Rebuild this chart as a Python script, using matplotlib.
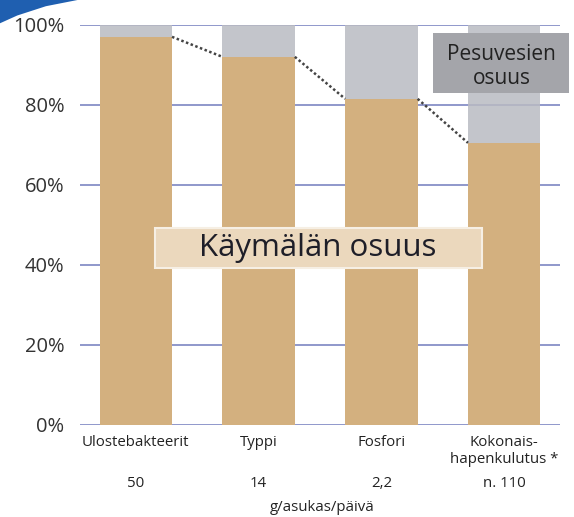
import numpy as np
import matplotlib.pyplot as plt
from matplotlib.patches import Polygon, Rectangle

# data
categories = ['Ulostebakteerit', 'Typpi', 'Fosfori', 'Kokonais-\nhapenkulutus *']
amounts = ['50', '14', '2,2', 'n. 110']
toilet_share = [97, 92, 81.5, 70.5]
wash_share = [100 - v for v in toilet_share]
yticks = [0, 20, 40, 60, 80, 100]

plt.rcParams['font.family'] = ['Open Sans', 'DejaVu Sans']

fig = plt.figure(figsize=(5.74, 5.17), dpi=100)
ax = fig.add_axes([0.139, 0.178, 0.837, 0.774])

x = np.arange(len(categories))
w = 0.59
orange = '#d3b07f'
grey = '#b9bbc2'

# grid lines behind the toilet part, visible through the grey part
for t in yticks:
    ax.axhline(t, color='#7d86c2', lw=1.2, zorder=1)
ax.bar(x, toilet_share, w, color=orange, zorder=2)
ax.bar(x, wash_share, w, bottom=toilet_share, color=grey, alpha=0.85, zorder=3)

# dotted connectors between bar tops
for i in range(len(x) - 1):
    ax.plot([x[i] + w / 2, x[i + 1] - w / 2], [toilet_share[i], toilet_share[i + 1]],
            ls=(0, (1, 1)), color='#444444', lw=1.8, zorder=4)

ax.set_xlim(-0.456, 3.456)
ax.set_ylim(0, 100)
ax.set_yticks(yticks)
ax.set_yticklabels([f'{t}%' for t in yticks], fontsize=14.5, color='#333333')
ax.tick_params(axis='y', length=0, pad=11)
ax.set_xticks([])
for s in ax.spines.values():
    s.set_visible(False)

# category labels and amounts below
for i, (c, a) in enumerate(zip(categories, amounts)):
    ax.text(x[i], -2.5, c, ha='center', va='top', fontsize=10.8, color='#222222',
            linespacing=1.2)
    ax.text(x[i], -12.8, a, ha='center', va='top', fontsize=10.8, color='#222222')
ax.text(1.52, -18.8, 'g/asukas/päivä', ha='center', va='top', fontsize=10.8,
        color='#222222')

# label boxes
ax.add_patch(Rectangle((0.155, 39.3), 2.665, 10, fc='#ebd8bd', ec='#f6efe4',
                       lw=1.5, zorder=5))
ax.text(1.48, 44.2, 'Käymälän osuus', ha='center', va='center', fontsize=22.5,
        color='#1e1e28', zorder=6)
ax.add_patch(Rectangle((2.42, 83), 1.11, 15, fc='#a4a5aa', ec='none',
                       zorder=5, clip_on=False))
ax.text(2.98, 89.6, 'Pesuvesien\nosuus', ha='center', va='center', fontsize=15,
        color='#222222', linespacing=1.15, zorder=6)

# blue corner swoosh
fig.patches.append(Polygon([[0, 1], [0.135, 1], [0.08, 0.988], [0.03, 0.97], [0, 0.955]],
                           closed=True, transform=fig.transFigure,
                           fc='#1f5fb0', ec='none'))

fig.savefig('out.png', dpi=100)
